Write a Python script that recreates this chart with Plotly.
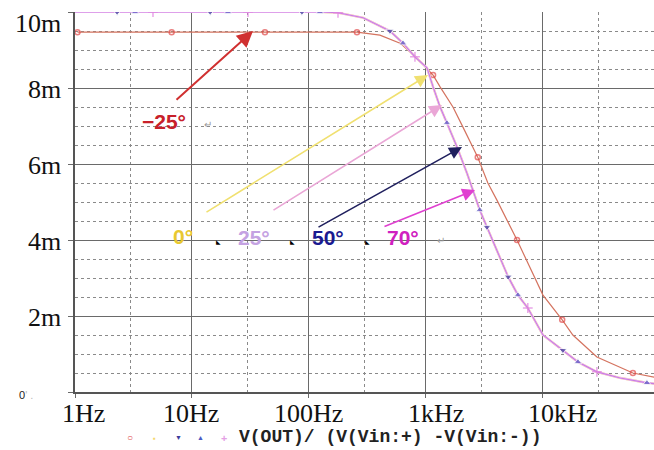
import plotly.graph_objects as go

# -25 deg curve (red), frequency in Hz, gain in V/V (m = milli)
freq_m25 = [1.05, 6.7, 42, 257, 404, 600, 836, 1150, 1320, 1700, 2070, 2520, 2770,
            3380, 4040, 6000, 7760, 10000, 14600, 18000, 28900, 58700, 89000]
gain_m25 = [9.47, 9.47, 9.47, 9.47, 9.39, 9.18, 8.79, 8.34, 8.03, 7.5, 6.97, 6.45, 6.18,
            5.5, 5.05, 4.0, 3.26, 2.55, 1.9, 1.5, 0.92, 0.5, 0.39]
marks_m25 = [1.05, 6.7, 42, 257, 1150, 2770, 6000, 14600, 58700]

# 0 / 25 / 50 / 70 deg curves lie on top of each other in the picture
freq_pos = [1, 2.29, 3.26, 4.64, 14.3, 20.3, 30.1, 87, 124, 177, 290, 492, 636, 805,
            1020, 1150, 1320, 1510, 1840, 2240, 2470, 2880, 3320, 4040, 5040, 6110,
            7420, 10000, 14800, 19900, 28900, 45700, 77400, 89000]
gain_pos = [10, 10, 10, 10, 10, 10, 10, 10, 10, 9.98, 9.85, 9.5, 9.18, 8.82,
            8.53, 8.03, 7.5, 7.08, 6.45, 5.76, 5.37, 4.79, 4.34, 3.74, 3.03, 2.55,
            2.21, 1.5, 1.1, 0.79, 0.53, 0.37, 0.24, 0.22]
marks_25 = [2.29, 14.3, 87, 492, 3320, 5040, 14800]
marks_50 = [3.26, 20.3, 124, 636, 1510, 2880, 6110, 19900, 77400]
marks_70 = [4.64, 30.1, 177, 805, 7420, 28900]

y_labels = ["10m", "8m", "6m", "4m", "2m"]
y_label_vals = [10, 8, 6, 4, 2]
x_labels = ["1Hz", "10Hz", "100Hz", "1kHz", "10kHz"]
x_label_vals = [0, 1, 2, 3, 4]

# plot area in pixels
L, R, T, B = 75, 654, 12, 392
DEC = (R - L) / 4.949


def px(xp, yp):
    # pixel position -> axis coords (log10 Hz, mV)
    return (xp - L) / DEC, (B - yp) / 38.0


def sizes(freqs, marks, s):
    return [s if f in marks else 0 for f in freqs]


fig = go.Figure()

fig.add_trace(go.Scatter(x=freq_m25, y=gain_m25, mode="lines+markers",
                         line=dict(color="#d4735f", width=1.2),
                         marker=dict(symbol="circle-open", color="#e04848",
                                     size=sizes(freq_m25, marks_m25, 5), line=dict(width=1.5))))
fig.add_trace(go.Scatter(x=freq_pos, y=gain_pos, mode="lines",
                         line=dict(color="#f2dc6a", width=2.2)))
fig.add_trace(go.Scatter(x=freq_pos, y=gain_pos, mode="lines",
                         line=dict(color="#f3c4f3", width=2.2)))
fig.add_trace(go.Scatter(x=freq_pos, y=gain_pos, mode="lines",
                         line=dict(color="#c97ce2", width=1.1)))
fig.add_trace(go.Scatter(x=freq_pos, y=gain_pos, mode="markers",
                         marker=dict(symbol="triangle-down", color="#3c3c9c",
                                     size=sizes(freq_pos, marks_25, 7))))
fig.add_trace(go.Scatter(x=freq_pos, y=gain_pos, mode="markers",
                         marker=dict(symbol="triangle-up", color="#5a5ac4",
                                     size=sizes(freq_pos, marks_50, 7))))
fig.add_trace(go.Scatter(x=freq_pos, y=gain_pos, mode="markers",
                         marker=dict(symbol="cross-thin", color="#e080e0",
                                     size=sizes(freq_pos, marks_70, 7), line=dict(width=1.5, color="#e080e0"))))

ann = []
serif = "Liberation Serif"
for t, v in zip(y_labels, y_label_vals):
    ann.append(dict(text=t, xref="paper", yref="y", x=0, y=v, xanchor="right",
                    yanchor="middle", xshift=-12, yshift=-11 if v == 10 else -1,
                    showarrow=False, font=dict(family=serif, size=26, color="#111")))
ann.append(dict(text="0<span style='color:#bbb'>' .</span>", xref="paper", yref="y",
                x=0, y=0, xanchor="right", yanchor="middle", xshift=-40, yshift=-3,
                showarrow=False, font=dict(family="Liberation Sans", size=11, color="#222")))
x_shift = [8, -1, 0, 10, 20]
for t, v, s in zip(x_labels, x_label_vals, x_shift):
    ann.append(dict(text=t, xref="x", yref="paper", x=v, y=0, xanchor="center",
                    yanchor="middle", xshift=s, yshift=-21, showarrow=False,
                    font=dict(family=serif, size=26, color="#111")))

# angle labels with arrows: (text, color, text pos, arrow tail, arrow tip, arrow color)
angle_notes = [
    ("\u221225\u00b0", "#c8202a", (164, 121), (175, 101), (253, 31), "#d03030"),
    ("0\u00b0", "#e8c830", (183, 236), (205, 213), (428, 75), "#f0e070"),
    ("25\u00b0", "#c4a2e2", (254, 237), (272, 211), (442, 105), "#eaa6d6"),
    ("50\u00b0", "#1a1a90", (328, 237), (317, 228), (462, 147), "#20205e"),
    ("70\u00b0", "#d020c0", (403, 237), (383, 227), (475, 190), "#e040d0"),
]
for t, c, tp, tail, tip, ac in angle_notes:
    x, y = px(*tp)
    ann.append(dict(text="<b>%s</b>" % t, x=x, y=y, xref="x", yref="y", showarrow=False,
                    font=dict(family="Liberation Sans", size=21, color=c)))
    x0, y0 = px(*tail)
    x1, y1 = px(*tip)
    ann.append(dict(text="", x=x1, y=y1, ax=x0, ay=y0, xref="x", yref="y", axref="x",
                    ayref="y", showarrow=True, arrowhead=2, arrowsize=1.6,
                    arrowwidth=1.6 if t != "\u221225\u00b0" else 2, arrowcolor=ac))

for p in [(208, 124), (441, 240)]:
    x, y = px(*p)
    ann.append(dict(text="\u21b5", x=x, y=y, xref="x", yref="y", showarrow=False,
                    font=dict(size=10, color="#999")))
for p in [(218, 242), (292, 242), (367, 242)]:
    x, y = px(*p)
    ann.append(dict(text="\u25e3", x=x, y=y, xref="x", yref="y", showarrow=False,
                    font=dict(size=6, color="#000")))

# legend row under the axis
leg_y = (B - 437) / (B - T)
legend_marks = [("\u25cb", "#e04848", 130, 10), ("\u25aa", "#f5d76e", 154, 8),
                ("\u25bc", "#3c3c9c", 178, 7), ("\u25b2", "#4a5ac4", 200, 7),
                ("+", "#e4a0e4", 224, 11)]
for s, c, xp, fs in legend_marks:
    ann.append(dict(text="<b>%s</b>" % s, xref="paper", yref="paper", x=(xp - L) / (R - L),
                    y=leg_y, yanchor="middle", xanchor="center", showarrow=False,
                    font=dict(size=fs, color=c)))
ann.append(dict(text="<b>V(OUT)/ (V(Vin:+) -V(Vin:-))</b>", xref="paper", yref="paper",
                x=(390 - L) / (R - L), y=leg_y, yanchor="middle", xanchor="center",
                showarrow=False, font=dict(family="Liberation Mono", size=18, color="#222")))

fig.update_layout(
    width=654, height=450,
    margin=dict(l=L, r=654 - R, t=T, b=450 - B),
    paper_bgcolor="white", plot_bgcolor="white",
    showlegend=False,
    annotations=ann,
    xaxis=dict(type="log", range=[0, 4.949], showticklabels=False,
               tickvals=[1, 10, 100, 1000, 10000], showgrid=True, gridcolor="#6a6a6a",
               gridwidth=1.3, ticks="outside", ticklen=4, tickcolor="#6a6a6a",
               showline=True, linecolor="#555", linewidth=1.5, zeroline=False,
               minor=dict(tickvals=[3, 30, 300, 3000, 30000], showgrid=True,
                          gridcolor="#8a8a8a", griddash="dot", gridwidth=1.3)),
    yaxis=dict(range=[0, 10], showticklabels=False, tickvals=[0, 2, 4, 6, 8, 10],
               showgrid=True, gridcolor="#6a6a6a", gridwidth=1.3, ticks="outside",
               ticklen=5, tickcolor="#6a6a6a", showline=True, linecolor="#555",
               linewidth=1.5, zeroline=False,
               minor=dict(dtick=0.5, showgrid=True, gridcolor="#8a8a8a",
                          griddash="dot", gridwidth=1.3)),
)

# page body has an 8px default margin; drop it so the figure sits at the window corner
fig.write_html("out.html", config={"displayModeBar": False},
               post_script="document.body.style.margin='0';")
